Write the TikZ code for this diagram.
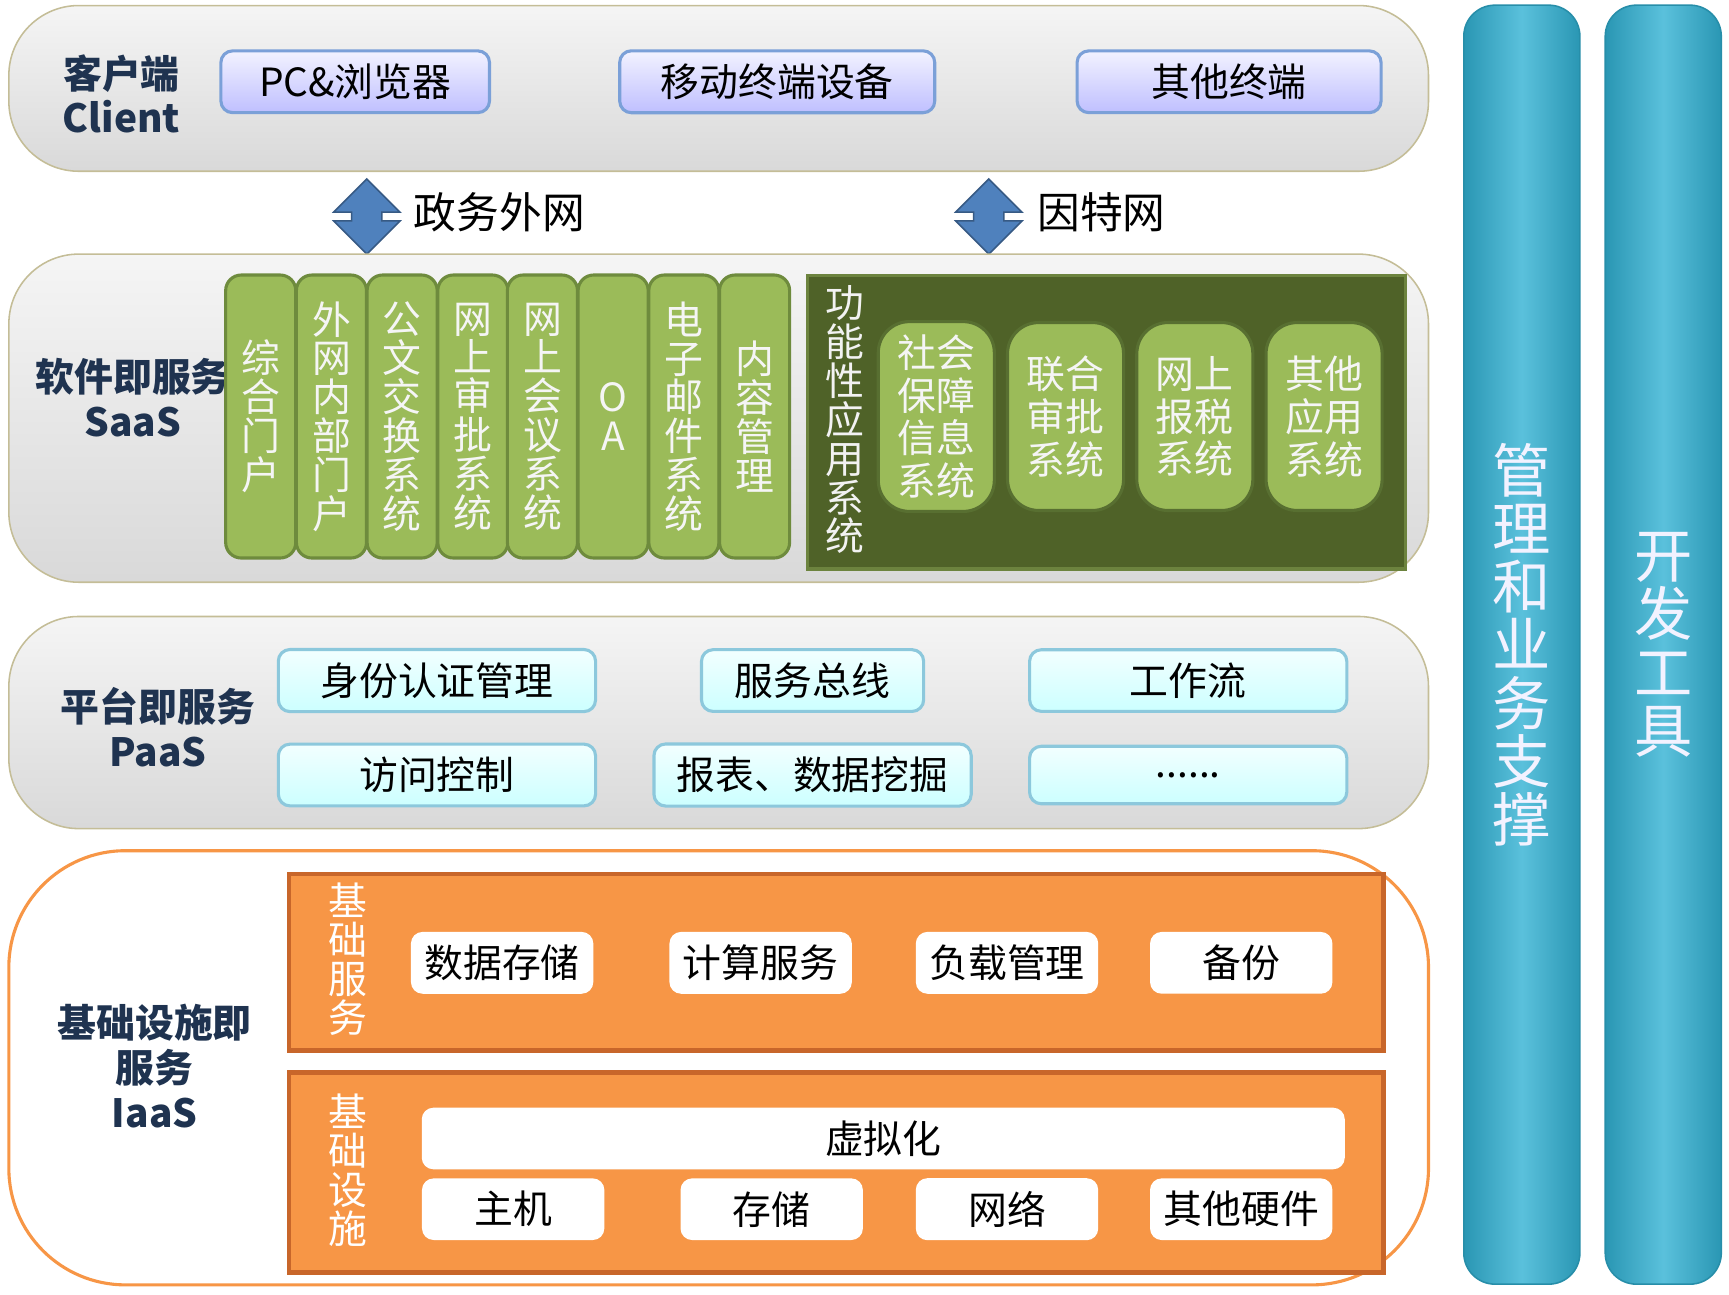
\documentclass[tikz,border=0pt]{standalone}
\usepackage{fontspec}
\setmainfont{Noto Sans CJK SC}
\usetikzlibrary{shapes.arrows}
\definecolor{labelblue}{HTML}{1F3350}
\definecolor{btnedge}{HTML}{7BA0D8}
\definecolor{cyanedge}{HTML}{8CC8DC}
\definecolor{saasgreen}{HTML}{9BBB59}
\definecolor{greenedge}{HTML}{6E8B3D}
\definecolor{darkolive}{HTML}{4F6228}
\definecolor{iaasorange}{HTML}{F79646}
\definecolor{orangeedge}{HTML}{C8662A}
\definecolor{sidecyan}{HTML}{31B1D3}
\definecolor{bandedge}{HTML}{C4BD97}
\definecolor{arrowblue}{HTML}{4F81BD}
\newcommand{\tightlines}[2]{\fontsize{#1}{#2}\selectfont\lineskiplimit=-100pt\relax}
\tikzset{
  band/.style={draw=bandedge, rounded corners=18pt, top color=gray!8, bottom color=gray!30},
  layername/.style={font=\fontsize{10}{11.5}\selectfont\bfseries, text=labelblue, align=center},
  clientbtn/.style={draw=btnedge, thick, rounded corners=3pt, top color=blue!5, bottom color=blue!25, font=\fontsize{10}{12}\selectfont},
  paasbtn/.style={draw=cyanedge, thick, rounded corners=3pt, top color=cyan!5, bottom color=cyan!20, font=\fontsize{10}{12}\selectfont},
  appbar/.style={draw=greenedge, thick, fill=saasgreen, rounded corners=4pt, minimum width=0.54cm, minimum height=2.56cm, text width=0.4cm, text=white!92!gray, font=\tightlines{10}{10}, align=center},
  funcbox/.style={draw=greenedge!80!black, thick, fill=saasgreen, rounded corners=8pt, minimum width=1.05cm, minimum height=1.7cm, text=white!92!gray, font=\tightlines{10}{11}, align=center},
  whitebtn/.style={fill=white, rounded corners=3pt, minimum height=0.47cm, font=\fontsize{10}{12}\selectfont},
  orangebox/.style={draw=orangeedge, very thick, fill=iaasorange, minimum width=9.9cm},
  sidebar/.style={draw=sidecyan!80!black, rounded corners=8pt, left color=sidecyan!85!black, right color=sidecyan!85!black, middle color=sidecyan!80!white, minimum width=1.05cm, minimum height=11.57cm, font=\tightlines{15}{15}, text=white!95!blue, align=center},
  netarrow/.style={double arrow, draw=arrowblue!70!black, fill=arrowblue, rotate=90, minimum height=0.68cm, minimum width=0.6cm, double arrow head extend=0.05cm, inner sep=1pt}
}
\begin{document}
\begin{tikzpicture}[x=0.01cm, y=-0.01cm]
  \useasboundingbox (0,0) rectangle (1565,1172);

  % client
  \draw[band] (8,5) rectangle (1293,155);
  \node[layername] (client) at (110,85) {客户端\\Client};
  \node[clientbtn, minimum width=2.43cm, minimum height=0.52cm] (pc) at (321.5,74) {PC\&浏览器};
  \node[clientbtn, minimum width=2.85cm, minimum height=0.52cm] (mobile) at (703.5,74) {移动终端设备};
  \node[clientbtn, minimum width=2.75cm, minimum height=0.52cm] (otherterm) at (1112.5,74) {其他终端};

  % networks
  \node[netarrow] (gov) at (332,196) {};
  \node[font=\fontsize{11}{13}\selectfont] (govlbl) at (452,192) {政务外网};
  \node[netarrow] (inet) at (895,196) {};
  \node[font=\fontsize{11}{13}\selectfont] (inetlbl) at (997,192) {因特网};

  % saas
  \draw[band] (8,230) rectangle (1293,527);
  \node[layername] (saas) at (120,360) {软件即服务\\SaaS};
  \node[appbar] (a1) at (236,377) {综\\合\\门\\户};
  \node[appbar] (a2) at (300,377) {外\\网\\内\\部\\门\\户};
  \node[appbar] (a3) at (364,377) {公\\文\\交\\换\\系\\统};
  \node[appbar] (a4) at (428,377) {网\\上\\审\\批\\系\\统};
  \node[appbar] (a5) at (491,377) {网\\上\\会\\议\\系\\统};
  \node[appbar] (a6) at (555,377) {O\\A};
  \node[appbar] (a7) at (619,377) {电\\子\\邮\\件\\系\\统};
  \node[appbar] (a8) at (683,377) {内\\容\\管\\理};
  \draw[draw=saasgreen!70!black, thick, fill=darkolive] (731,249) rectangle (1272,515);
  \node[text=white!90!gray, font=\tightlines{10}{10}, align=center] (func) at (765,380) {功\\能\\性\\应\\用\\系\\统};
  \node[funcbox] (f1) at (847.5,377) {社会\\保障\\信息\\系统};
  \node[funcbox] (f2) at (964.5,377) {联合\\审批\\系统};
  \node[funcbox] (f3) at (1081.5,377) {网上\\报税\\系统};
  \node[funcbox] (f4) at (1198.5,377) {其他\\应用\\系统};

  % paas
  \draw[band] (8,558) rectangle (1293,750);
  \node[layername] (paas) at (143,658) {平台即服务\\PaaS};
  \node[paasbtn, minimum width=2.87cm, minimum height=0.52cm] (auth) at (395.5,616) {身份认证管理};
  \node[paasbtn, minimum width=2.01cm, minimum height=0.52cm] (bus) at (735.5,616) {服务总线};
  \node[paasbtn, minimum width=2.87cm, minimum height=0.52cm] (flow) at (1075.5,616) {工作流};
  \node[paasbtn, minimum width=2.87cm, minimum height=0.52cm] (access) at (395.5,701.5) {访问控制};
  \node[paasbtn, minimum width=2.87cm, minimum height=0.52cm] (report) at (735.5,701.5) {报表、数据挖掘};
  \node[paasbtn, minimum width=2.87cm, minimum height=0.52cm] (more) at (1075.5,701.5) {......};

  % iaas
  \draw[draw=iaasorange, thick, fill=white, rounded corners=30pt] (8,770) rectangle (1293,1163);
  \node[layername] (iaas) at (140,965) {基础设施即\\服务\\IaaS};
  \node[orangebox, minimum height=1.6cm] (basesvc) at (757,871) {};
  \node[text=white, font=\tightlines{10}{10}, align=center] (basesvclbl) at (315,868) {基\\础\\服\\务};
  \node[whitebtn, minimum width=1.65cm] (store) at (454.5,871.5) {数据存储};
  \node[whitebtn, minimum width=1.65cm] (compute) at (688.5,871.5) {计算服务};
  \node[whitebtn, minimum width=1.65cm] (load) at (911.5,871.5) {负载管理};
  \node[whitebtn, minimum width=1.65cm] (backup) at (1123.5,871.5) {备份};
  \node[orangebox, minimum height=1.81cm] (infra) at (757,1061.5) {};
  \node[text=white, font=\tightlines{10}{10}, align=center] (infralbl) at (315,1059) {基\\础\\设\\施};
  \node[whitebtn, minimum width=8.35cm] (virt) at (799.5,1030.5) {虚拟化};
  \node[whitebtn, minimum width=1.65cm] (host) at (464.5,1094.5) {主机};
  \node[whitebtn, minimum width=1.65cm] (disk) at (698.5,1094.5) {存储};
  \node[whitebtn, minimum width=1.65cm] (net) at (911.5,1094.5) {网络};
  \node[whitebtn, minimum width=1.65cm] (hw) at (1123.5,1094.5) {其他硬件};

  % side columns
  \node[sidebar] (mgmt) at (1377.5,583.5) {管\\理\\和\\业\\务\\支\\撑};
  \node[sidebar] (dev) at (1505.5,583.5) {开\\发\\工\\具};
\end{tikzpicture}
\end{document}
